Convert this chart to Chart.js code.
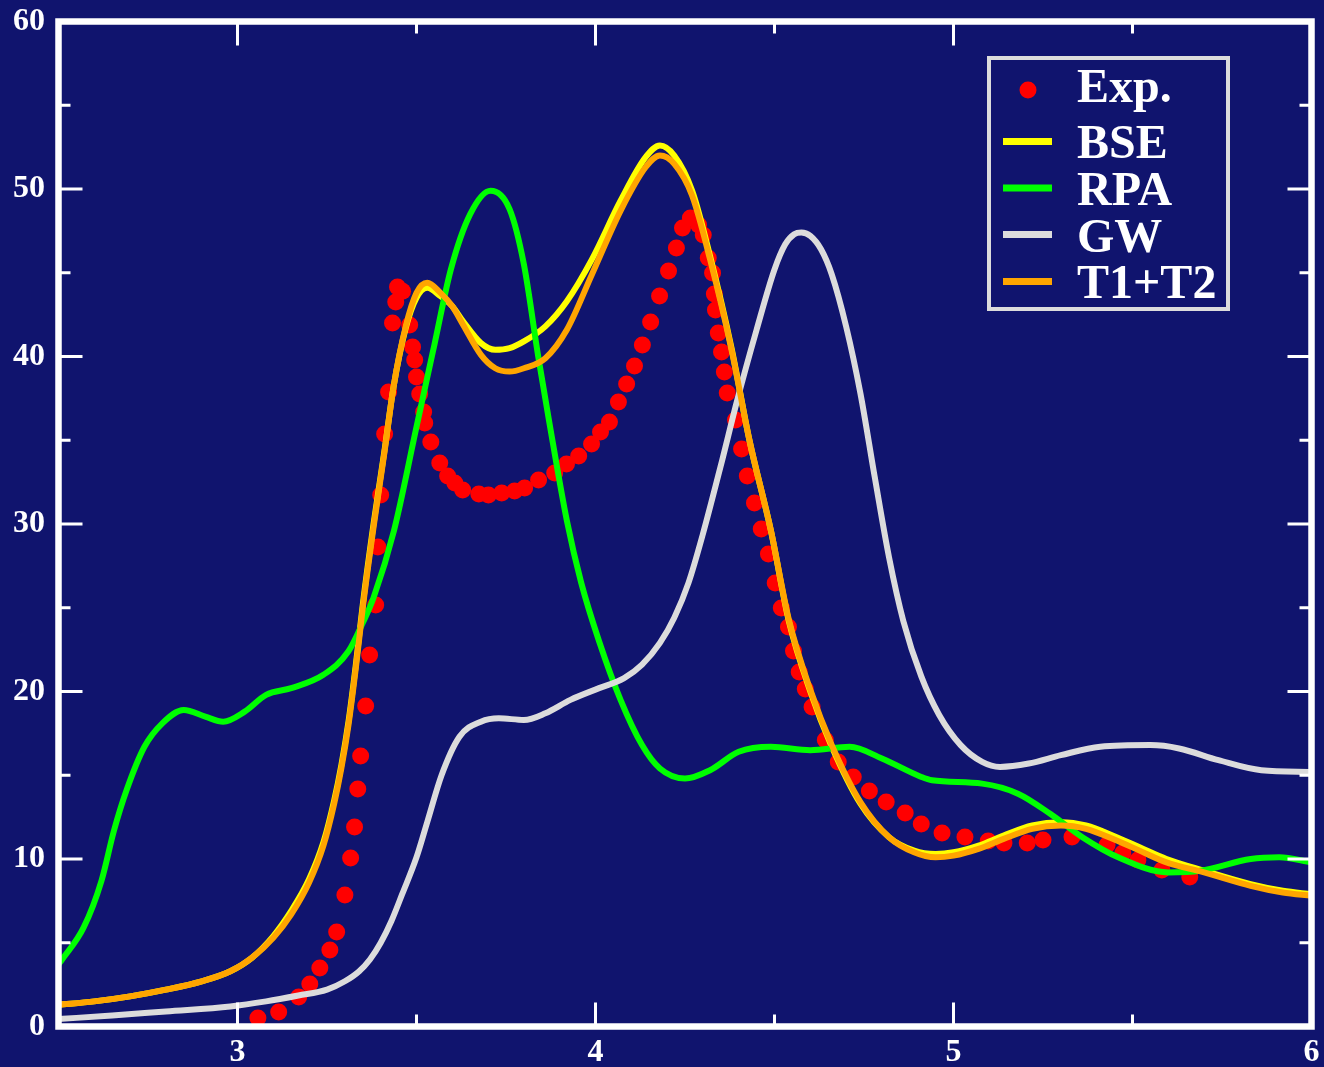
<!DOCTYPE html>
<html>
<head>
<meta charset="utf-8">
<script src="https://cdn.jsdelivr.net/npm/chart.js@4.4.1/dist/chart.umd.min.js"></script>
<style>
  html, body { margin: 0; padding: 0; background: rgb(16,20,110); }
  #wrap { width: 1324px; height: 1067px; }
</style>
</head>
<body>
<div id="wrap"><canvas id="chart" width="1324" height="1067"></canvas></div>
<script>
// tick labels
const xTicks = [3, 4, 5, 6];
const xMinor = [3.5, 4.5, 5.5];
const yTicks = [0, 10, 20, 30, 40, 50, 60];
const yMinor = [5, 15, 25, 35, 45, 55];

// experiment (dots)
const expX = [3.057, 3.115, 3.171, 3.202, 3.230, 3.258, 3.277, 3.300, 3.316, 3.327, 3.336, 3.344, 3.358, 3.369, 3.386, 3.392, 3.400, 3.411, 3.422, 3.433, 3.442, 3.447, 3.461, 3.481, 3.489, 3.495, 3.500, 3.509, 3.520, 3.523, 3.540, 3.565, 3.587, 3.607, 3.629, 3.674, 3.701, 3.738, 3.774, 3.802, 3.841, 3.886, 3.919, 3.953, 3.989, 4.014, 4.039, 4.064, 4.087, 4.109, 4.131, 4.154, 4.179, 4.204, 4.226, 4.243, 4.265, 4.288, 4.301, 4.315, 4.327, 4.332, 4.335, 4.343, 4.352, 4.360, 4.368, 4.391, 4.408, 4.424, 4.444, 4.463, 4.483, 4.502, 4.519, 4.539, 4.553, 4.569, 4.586, 4.605, 4.642, 4.678, 4.720, 4.765, 4.812, 4.865, 4.910, 4.968, 5.032, 5.097, 5.141, 5.206, 5.250, 5.331, 5.429, 5.473, 5.515, 5.582, 5.660];
const expY = [0.51, 0.87, 1.76, 2.54, 3.49, 4.57, 5.64, 7.85, 10.06, 11.91, 14.18, 16.15, 19.13, 22.18, 25.16, 28.63, 31.73, 35.37, 37.88, 42.0, 43.25, 44.15, 43.9, 41.88, 40.57, 39.79, 38.78, 37.76, 36.69, 36.03, 34.90, 33.64, 32.87, 32.45, 32.03, 31.79, 31.73, 31.85, 31.97, 32.15, 32.63, 33.04, 33.58, 34.06, 34.78, 35.49, 36.09, 37.28, 38.36, 39.43, 40.69, 42.06, 43.61, 45.10, 46.48, 47.67, 48.27, 47.85, 47.25, 45.88, 44.99, 43.73, 42.78, 41.40, 40.27, 39.07, 37.82, 36.21, 34.48, 32.87, 31.25, 29.70, 28.21, 26.48, 24.99, 23.85, 22.42, 21.16, 20.15, 19.07, 17.10, 15.79, 14.90, 14.06, 13.40, 12.75, 12.09, 11.55, 11.31, 11.07, 10.95, 10.95, 11.13, 11.31, 10.84, 10.36, 9.94, 9.34, 8.93];

// BSE
const bseX = [2.5, 2.6, 2.7, 2.8, 2.9, 2.98, 3.04, 3.10, 3.15, 3.20, 3.24, 3.27, 3.29, 3.31, 3.33, 3.35, 3.38, 3.41, 3.436, 3.47, 3.50, 3.53, 3.567, 3.60, 3.63, 3.68, 3.72, 3.76, 3.80, 3.86, 3.92, 3.99, 4.07, 4.14, 4.18, 4.22, 4.27, 4.32, 4.38, 4.43, 4.49, 4.54, 4.60, 4.66, 4.74, 4.82, 4.89, 4.95, 5.00, 5.07, 5.14, 5.22, 5.30, 5.37, 5.456, 5.52, 5.595, 5.70, 5.83, 5.92, 6.0];
const bseY = [1.3, 1.5, 1.8, 2.2, 2.7, 3.3, 4.1, 5.4, 6.9, 8.8, 11.0, 13.5, 15.6, 18.2, 21.5, 25.2, 30.0, 34.3, 38.2, 41.7, 43.5, 44.1, 43.6, 43.0, 42.1, 40.8, 40.4, 40.5, 40.9, 41.8, 43.3, 45.8, 49.3, 51.9, 52.6, 52.0, 49.9, 46.0, 40.5, 35.0, 29.6, 24.2, 20.0, 16.7, 13.3, 11.3, 10.5, 10.3, 10.4, 10.8, 11.4, 12.0, 12.2, 12.0, 11.3, 10.7, 10.0, 9.3, 8.5, 8.1, 7.9];

// RPA
const rpaX = [2.5, 2.51, 2.57, 2.62, 2.655, 2.69, 2.74, 2.79, 2.85, 2.91, 2.96, 3.02, 3.08, 3.15, 3.24, 3.31, 3.35, 3.38, 3.437, 3.50, 3.55, 3.596, 3.65, 3.707, 3.76, 3.80, 3.84, 3.87, 3.92, 3.96, 4.01, 4.07, 4.13, 4.18, 4.25, 4.32, 4.40, 4.49, 4.60, 4.71, 4.80, 4.91, 4.94, 5.08, 5.18, 5.27, 5.36, 5.46, 5.60, 5.69, 5.83, 5.91, 6.0];
const rpaY = [3.7, 4.0, 5.9, 8.7, 11.7, 14.1, 16.7, 18.1, 18.9, 18.5, 18.2, 18.8, 19.8, 20.2, 21.0, 22.4, 24.1, 25.6, 29.6, 35.8, 40.7, 45.2, 48.5, 49.9, 48.8, 45.5, 40.0, 36.2, 30.2, 26.5, 23.0, 19.5, 16.8, 15.4, 14.8, 15.3, 16.4, 16.7, 16.5, 16.7, 16.0, 14.9, 14.7, 14.5, 13.9, 12.7, 11.3, 10.1, 9.2, 9.3, 10.0, 10.1, 9.8];

// GW
const gwX = [2.5, 2.65, 2.80, 2.98, 3.08, 3.17, 3.25, 3.30, 3.34, 3.37, 3.40, 3.43, 3.46, 3.50, 3.53, 3.57, 3.62, 3.68, 3.73, 3.80, 3.86, 3.93, 4.01, 4.08, 4.13, 4.18, 4.22, 4.26, 4.30, 4.349, 4.396, 4.45, 4.50, 4.53, 4.555, 4.575, 4.60, 4.63, 4.66, 4.70, 4.74, 4.78, 4.82, 4.86, 4.91, 4.96, 5.02, 5.08, 5.13, 5.21, 5.30, 5.41, 5.55, 5.63, 5.74, 5.86, 6.0];
const gwY = [0.45, 0.65, 0.9, 1.2, 1.5, 1.85, 2.2, 2.7, 3.3, 4.0, 5.0, 6.3, 7.9, 10.1, 12.2, 15.0, 17.3, 18.2, 18.4, 18.3, 18.7, 19.5, 20.2, 20.8, 21.6, 22.9, 24.4, 26.5, 29.4, 33.4, 37.4, 41.6, 45.2, 46.7, 47.3, 47.4, 47.2, 46.4, 44.9, 41.8, 37.8, 32.8, 28.0, 24.2, 20.9, 18.6, 16.8, 15.8, 15.5, 15.7, 16.2, 16.7, 16.8, 16.6, 15.9, 15.3, 15.2];

// T1+T2
const ttX = [2.5, 2.6, 2.7, 2.8, 2.9, 2.98, 3.04, 3.10, 3.15, 3.20, 3.24, 3.27, 3.29, 3.31, 3.33, 3.35, 3.38, 3.41, 3.436, 3.47, 3.50, 3.53, 3.567, 3.60, 3.63, 3.68, 3.72, 3.76, 3.80, 3.86, 3.92, 3.99, 4.07, 4.14, 4.18, 4.22, 4.27, 4.32, 4.38, 4.43, 4.49, 4.54, 4.60, 4.66, 4.74, 4.82, 4.89, 4.95, 5.00, 5.07, 5.14, 5.22, 5.30, 5.37, 5.456, 5.52, 5.595, 5.70, 5.83, 5.92, 6.0];
const ttY = [1.3, 1.5, 1.8, 2.2, 2.7, 3.3, 4.1, 5.3, 6.7, 8.6, 10.8, 13.3, 15.4, 18.0, 21.3, 25.0, 29.8, 34.2, 38.2, 41.8, 43.8, 44.4, 43.8, 43.0, 41.9, 40.1, 39.3, 39.1, 39.3, 39.9, 41.6, 44.9, 48.7, 51.3, 52.0, 51.5, 49.6, 45.8, 40.4, 35.0, 29.6, 24.3, 20.1, 16.8, 13.4, 11.3, 10.4, 10.1, 10.2, 10.6, 11.2, 11.8, 12.0, 11.8, 11.1, 10.5, 9.8, 9.2, 8.4, 8.0, 7.8];

const pts = (xs, ys) => xs.map((x, i) => ({x: x, y: ys[i]}));

const bg = 'rgb(16,20,110)';
const serif = "'Liberation Serif', 'Times New Roman', serif";

// frame, inward ticks and legend box
const framePlugin = {
  id: 'frame',
  beforeDraw(chart) {
    const c = chart.ctx;
    c.save();
    c.fillStyle = bg;
    c.fillRect(0, 0, chart.width, chart.height);
    c.restore();
  },
  afterDatasetsDraw(chart) {
    const c = chart.ctx, a = chart.chartArea;
    const xs = chart.scales.x, ys = chart.scales.y;
    c.save();
    c.strokeStyle = '#ffffff';
    c.lineWidth = 3;
    const tick = (v, len, horiz) => {
      c.beginPath();
      if (horiz) {
        const p = xs.getPixelForValue(v);
        c.moveTo(p, a.bottom); c.lineTo(p, a.bottom - len);
        c.moveTo(p, a.top); c.lineTo(p, a.top + len);
      } else {
        const p = ys.getPixelForValue(v);
        c.moveTo(a.left, p); c.lineTo(a.left + len, p);
        c.moveTo(a.right, p); c.lineTo(a.right - len, p);
      }
      c.stroke();
    };
    xTicks.forEach(v => tick(v, 24, true));
    xMinor.forEach(v => tick(v, 12, true));
    yTicks.forEach(v => tick(v, 24, false));
    yMinor.forEach(v => tick(v, 12, false));
    c.lineWidth = 6.5;
    c.strokeRect(a.left, a.top, a.right - a.left, a.bottom - a.top);

    // legend
    c.strokeStyle = '#dcdcdc';
    c.lineWidth = 4;
    c.strokeRect(989, 58, 239, 251);
    const rows = [90, 141.5, 188, 234.5, 281.5];
    const base = [102, 158, 205, 252, 298];
    c.font = 'bold 48px ' + serif;
    c.textBaseline = 'alphabetic';
    chart.data.datasets.forEach((ds, i) => {
      if (ds.showLine === false) {
        c.beginPath();
        c.fillStyle = ds.pointBackgroundColor;
        c.arc(1028, rows[i], 8.5, 0, Math.PI * 2);
        c.fill();
      } else {
        c.strokeStyle = ds.borderColor;
        c.lineWidth = 7;
        c.beginPath();
        c.moveTo(1003, rows[i]); c.lineTo(1052, rows[i]);
        c.stroke();
      }
      c.fillStyle = '#ffffff';
      c.fillText(ds.label, 1077, base[i]);
    });
    c.restore();
  }
};

const lineDs = (label, data, color, order) => ({
  label: label, data: data, borderColor: color, borderWidth: 6,
  pointRadius: 0, cubicInterpolationMode: 'monotone', fill: false, order: order
});

let chart = new Chart(document.getElementById('chart').getContext('2d'), {
  type: 'line',
  data: {
    datasets: [
      {label: 'Exp.', data: pts(expX, expY), showLine: false, pointRadius: 8.5,
       pointBackgroundColor: '#ff0000', pointBorderWidth: 0, order: 5},
      lineDs('BSE', pts(bseX, bseY), '#ffff00', 4),
      lineDs('RPA', pts(rpaX, rpaY), '#00ff00', 3),
      lineDs('GW', pts(gwX, gwY), '#dcdcdc', 2),
      lineDs('T1+T2', pts(ttX, ttY), '#ffa500', 1)
    ]
  },
  options: {
    responsive: false,
    animation: false,
    events: [],
    layout: {padding: {top: 21.5, right: 12.5, left: 0, bottom: 0}},
    plugins: {legend: {display: false}, tooltip: {enabled: false}},
    scales: {
      x: {
        type: 'linear', min: 2.5, max: 6,
        grid: {display: false, drawTicks: false}, border: {display: false},
        afterBuildTicks: s => { s.ticks = xTicks.map(v => ({value: v})); },
        afterFit: s => { s.height = 40.5; s.paddingLeft = 0; s.paddingRight = 0; },
        ticks: {color: '#ffffff', padding: 7, autoSkip: false, maxRotation: 0,
                font: {family: serif, weight: 'bold', size: 32},
                callback: v => String(v)}
      },
      y: {
        type: 'linear', min: 0, max: 60,
        grid: {display: false, drawTicks: false}, border: {display: false},
        afterBuildTicks: s => { s.ticks = yTicks.map(v => ({value: v})); },
        afterFit: s => { s.width = 58.5; s.paddingTop = 0; s.paddingBottom = 0; },
        ticks: {color: '#ffffff', padding: 13.5,
                font: {family: serif, weight: 'bold', size: 32},
                callback: v => String(v)}
      }
    }
  },
  plugins: [framePlugin]
});
</script>
</body>
</html>
